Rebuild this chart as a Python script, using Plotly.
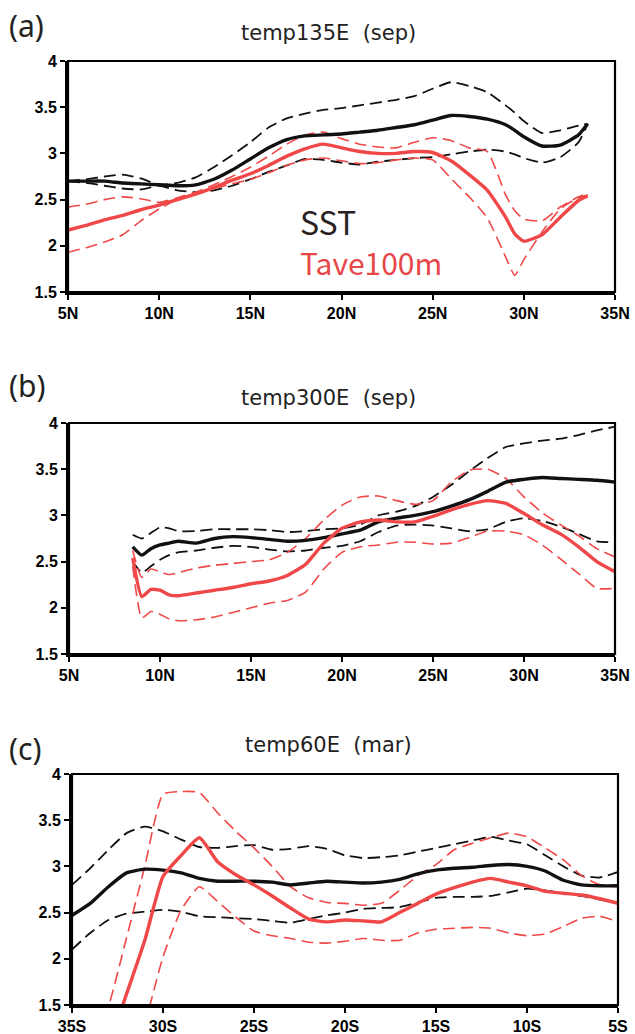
import plotly.graph_objects as go

# ---------------- data ----------------
# Panel (a) temp135E (sep)
a_lat = [5, 6, 7, 8, 9, 10, 11, 12, 13, 14, 15, 16, 17, 18, 19, 20, 21, 22, 23, 24,
         25, 26, 27, 28, 29, 29.5, 30, 31, 32, 33, 33.5]
a_sst = [2.70, 2.70, 2.70, 2.68, 2.67, 2.66, 2.65, 2.66, 2.72, 2.82, 2.94, 3.06, 3.15, 3.19, 3.20, 3.21,
         3.23, 3.25, 3.28, 3.31, 3.36, 3.41, 3.40, 3.37, 3.31, 3.25, 3.18, 3.08, 3.09, 3.20, 3.32]
a_sst_hi = [2.70, 2.72, 2.75, 2.77, 2.73, 2.66, 2.68, 2.74, 2.85, 2.98, 3.12, 3.28, 3.38, 3.43, 3.47, 3.49,
            3.52, 3.55, 3.58, 3.62, 3.70, 3.77, 3.73, 3.66, 3.52, 3.44, 3.35, 3.22, 3.25, 3.30, 3.32]
a_sst_lo = [2.70, 2.68, 2.65, 2.62, 2.61, 2.65, 2.60, 2.58, 2.60, 2.65, 2.72, 2.80, 2.87, 2.94, 2.93, 2.90,
            2.88, 2.91, 2.93, 2.95, 2.96, 2.99, 3.02, 3.04, 3.02, 2.99, 2.95, 2.90, 2.96, 3.12, 3.32]
a_tave = [2.17, 2.22, 2.28, 2.33, 2.39, 2.44, 2.50, 2.56, 2.63, 2.71, 2.78, 2.87, 2.97, 3.05, 3.10, 3.06,
          3.02, 3.00, 3.00, 3.02, 3.01, 2.92, 2.77, 2.60, 2.31, 2.13, 2.05, 2.12, 2.31, 2.49, 2.54]
a_tave_hi = [2.42, 2.45, 2.50, 2.53, 2.51, 2.47, 2.52, 2.58, 2.66, 2.75, 2.85, 2.97, 3.10, 3.20, 3.23, 3.16,
             3.10, 3.07, 3.06, 3.12, 3.17, 3.14, 3.06, 3.02, 2.55, 2.38, 2.29, 2.27, 2.42, 2.53, 2.57]
a_tave_lo = [1.93, 1.98, 2.04, 2.12, 2.27, 2.40, 2.50, 2.57, 2.62, 2.67, 2.72, 2.79, 2.87, 2.93, 2.95, 2.92,
             2.89, 2.90, 2.93, 2.95, 2.93, 2.73, 2.53, 2.30, 1.88, 1.68, 1.85, 2.15, 2.40, 2.52, 2.55]

# Panel (b) temp300E (sep)
b_lat = [8.5, 9, 9.5, 10, 10.5, 11, 12, 13, 14, 15, 16, 17, 18, 19, 20, 21, 22, 23, 24, 25,
         26, 27, 28, 29, 30, 31, 32, 33, 34, 35]
b_sst = [2.66, 2.57, 2.64, 2.68, 2.70, 2.72, 2.70, 2.75, 2.77, 2.76, 2.74, 2.72, 2.73, 2.76, 2.80,
         2.84, 2.93, 2.97, 3.00, 3.04, 3.10, 3.17, 3.26, 3.36, 3.39, 3.41, 3.40, 3.39, 3.38, 3.36]
b_sst_hi = [2.79, 2.75, 2.81, 2.87, 2.86, 2.83, 2.83, 2.85, 2.85, 2.85, 2.84, 2.82, 2.83, 2.85, 2.86,
            2.90, 3.00, 3.04, 3.10, 3.20, 3.33, 3.48, 3.62, 3.74, 3.78, 3.81, 3.83, 3.87, 3.92, 3.96]
b_sst_lo = [2.50, 2.38, 2.45, 2.52, 2.57, 2.60, 2.62, 2.65, 2.67, 2.66, 2.63, 2.61, 2.62, 2.65, 2.67,
            2.72, 2.82, 2.89, 2.90, 2.89, 2.86, 2.83, 2.85, 2.93, 2.97, 2.94, 2.88, 2.80, 2.72, 2.71]
b_tave = [2.54, 2.12, 2.20, 2.19, 2.14, 2.13, 2.16, 2.19, 2.22, 2.26, 2.29, 2.35, 2.47, 2.70, 2.86,
          2.93, 2.95, 2.93, 2.93, 2.99, 3.06, 3.12, 3.16, 3.13, 3.02, 2.90, 2.80, 2.66, 2.50, 2.39]
b_tave_hi = [2.62, 2.33, 2.42, 2.39, 2.36, 2.38, 2.43, 2.46, 2.48, 2.50, 2.52, 2.60, 2.75, 2.95, 3.11,
             3.20, 3.21, 3.16, 3.12, 3.16, 3.36, 3.49, 3.50, 3.40, 3.20, 3.03, 2.90, 2.78, 2.64, 2.55]
b_tave_lo = [2.45, 1.89, 1.96, 1.93, 1.88, 1.86, 1.87, 1.90, 1.95, 2.00, 2.05, 2.08, 2.17, 2.42, 2.60,
             2.66, 2.68, 2.71, 2.71, 2.69, 2.70, 2.76, 2.83, 2.83, 2.79, 2.68, 2.53, 2.37, 2.21, 2.21]

# Panel (c) temp60E (mar)  (negative = southern latitudes)
c_lat = [-35, -34, -33, -32, -31, -30, -29, -28, -27, -26, -25, -24, -23, -22, -21, -20,
         -19, -18, -17, -16, -15, -14, -13, -12, -11, -10, -9, -8, -7, -6, -5]
c_sst = [2.47, 2.60, 2.78, 2.93, 2.97, 2.96, 2.93, 2.87, 2.84, 2.84, 2.84, 2.83, 2.80, 2.82, 2.84, 2.83,
         2.82, 2.83, 2.86, 2.92, 2.96, 2.98, 2.99, 3.01, 3.02, 3.00, 2.95, 2.85, 2.80, 2.79, 2.79]
c_sst_hi = [2.80, 2.98, 3.18, 3.36, 3.43, 3.38, 3.29, 3.21, 3.20, 3.22, 3.23, 3.18, 3.19, 3.22, 3.19, 3.12,
            3.09, 3.10, 3.12, 3.16, 3.20, 3.24, 3.28, 3.32, 3.28, 3.24, 3.12, 3.00, 2.90, 2.88, 2.94]
c_sst_lo = [2.10, 2.28, 2.42, 2.49, 2.51, 2.53, 2.51, 2.46, 2.45, 2.44, 2.43, 2.41, 2.39, 2.43, 2.47, 2.50,
            2.54, 2.55, 2.56, 2.61, 2.66, 2.67, 2.67, 2.68, 2.72, 2.76, 2.74, 2.71, 2.68, 2.64, 2.61]
c_tave = [None, None, 1.05, 1.62, 2.20, 2.89, 3.12, 3.31, 3.05, 2.91, 2.80, 2.68, 2.55, 2.43, 2.40, 2.42,
          2.41, 2.40, 2.50, 2.60, 2.70, 2.77, 2.83, 2.87, 2.83, 2.79, 2.73, 2.71, 2.69, 2.65, 2.60]
c_tave_hi = [None, 1.00, 1.48, 2.23, 3.00, 3.78, 3.81, 3.80, 3.58, 3.38, 3.20, 3.00, 2.78, 2.66, 2.61, 2.60,
             2.58, 2.60, 2.74, 2.90, 3.02, 3.18, 3.25, 3.31, 3.36, 3.32, 3.20, 3.07, 2.90, 2.80, 2.78]
c_tave_lo = [None, None, None, None, 1.28, 2.02, 2.53, 2.78, 2.62, 2.45, 2.30, 2.25, 2.22, 2.18, 2.17, 2.19,
             2.22, 2.20, 2.20, 2.28, 2.32, 2.33, 2.34, 2.33, 2.28, 2.25, 2.27, 2.35, 2.44, 2.46, 2.40]

ytick_vals = [1.5, 2, 2.5, 3, 3.5, 4]
ytick_text = ["1.5", "2", "2.5", "3", "3.5", "4"]
n_tick_vals = [5, 10, 15, 20, 25, 30, 35]
n_tick_text = ["5N", "10N", "15N", "20N", "25N", "30N", "35N"]
s_tick_vals = [-35, -30, -25, -20, -15, -10, -5]
s_tick_text = ["35S", "30S", "25S", "20S", "15S", "10S", "5S"]

panel_labels = ["(a)", "(b)", "(c)"]
panel_titles = ["temp135E  (sep)", "temp300E  (sep)", "temp60E  (mar)"]
legend_labels = ["SST", "Tave100m"]

# ---------------- figure ----------------
W, H = 635, 1034
BLACK = "#111111"
RED = "#F04848"

# plot-area boxes in pixels: (left, top, right, bottom)
boxes = [(68, 61, 615, 292), (69, 423, 615, 654), (72, 774, 618, 1005)]

fig = go.Figure()

panels = [
    (a_lat, [a_sst, a_sst_hi, a_sst_lo], [a_tave, a_tave_hi, a_tave_lo], n_tick_vals, n_tick_text, [5, 35]),
    (b_lat, [b_sst, b_sst_hi, b_sst_lo], [b_tave, b_tave_hi, b_tave_lo], n_tick_vals, n_tick_text, [5, 35]),
    (c_lat, [c_sst, c_sst_hi, c_sst_lo], [c_tave, c_tave_hi, c_tave_lo], s_tick_vals, s_tick_text, [-35, -5]),
]

dash = "12px,6px"
for i, (lat, sst, tave, tv, tt, xr) in enumerate(panels):
    sfx = "" if i == 0 else str(i + 1)
    xa, ya = "x" + sfx, "y" + sfx
    for ys in sst[1:]:
        fig.add_trace(go.Scatter(x=lat, y=ys, mode="lines", xaxis=xa, yaxis=ya,
                                 line=dict(color=BLACK, width=1.8, dash=dash, shape="spline", smoothing=0.5),
                                 showlegend=False, hoverinfo="skip"))
    for ys in tave[1:]:
        fig.add_trace(go.Scatter(x=lat, y=ys, mode="lines", xaxis=xa, yaxis=ya,
                                 line=dict(color=RED, width=1.6, dash=dash, shape="spline", smoothing=0.5),
                                 showlegend=False, hoverinfo="skip"))
    fig.add_trace(go.Scatter(x=lat, y=sst[0], mode="lines", xaxis=xa, yaxis=ya,
                             line=dict(color=BLACK, width=3.4, shape="spline", smoothing=0.5),
                             showlegend=False, hoverinfo="skip"))
    fig.add_trace(go.Scatter(x=lat, y=tave[0], mode="lines", xaxis=xa, yaxis=ya,
                             line=dict(color=RED, width=3.4, shape="spline", smoothing=0.5),
                             showlegend=False, hoverinfo="skip"))

    l, t, r, b = boxes[i]
    xdom = [l / W, r / W]
    ydom = [1 - b / H, 1 - t / H]
    tickfont = dict(family="Liberation Sans", size=16, color="black", weight="bold")
    fig.layout["xaxis" + sfx] = dict(
        domain=xdom, range=xr, anchor=ya, tickmode="array", tickvals=tv, ticktext=tt,
        showline=True, linewidth=3, linecolor="black", ticks="outside", ticklen=5, tickwidth=2,
        tickcolor="black", showgrid=False, zeroline=False, tickfont=tickfont, fixedrange=True,
        automargin=False)
    fig.layout["yaxis" + sfx] = dict(
        domain=ydom, range=[1.5, 4], anchor=xa, tickmode="array", tickvals=ytick_vals, ticktext=ytick_text,
        showline=True, linewidth=3, linecolor="black", ticks="outside", ticklen=5, tickwidth=2,
        tickcolor="black", showgrid=False, zeroline=False, tickfont=tickfont, fixedrange=True,
        automargin=False)
    fig.add_shape(type="rect", xref=xa + " domain", yref=ya + " domain", x0=0, x1=1, y0=0, y1=1,
                  line=dict(color="black", width=2.2), layer="above")

# panel labels and titles
label_y = [25, 385, 748]
title_y = [33, 398, 745]
for i in range(3):
    fig.add_annotation(text=panel_labels[i], xref="paper", yref="paper", x=7 / W, y=1 - label_y[i] / H,
                       xanchor="left", yanchor="middle", showarrow=False,
                       font=dict(family="Noto Sans", size=30, color="#222222"))
    fig.add_annotation(text=panel_titles[i], xref="paper", yref="paper", x=328 / W, y=1 - title_y[i] / H,
                       xanchor="center", yanchor="middle", showarrow=False,
                       font=dict(family="DejaVu Sans", size=21, color="#222222"))

# in-plot legend text (panel a)
fig.add_annotation(text=legend_labels[0], xref="paper", yref="paper", x=298 / W, y=1 - 221 / H,
                   xanchor="left", yanchor="middle", showarrow=False,
                   font=dict(family="Noto Sans CJK JP", size=32, color="#2a2220"))
fig.add_annotation(text=legend_labels[1], xref="paper", yref="paper", x=298 / W, y=1 - 262 / H,
                   xanchor="left", yanchor="middle", showarrow=False,
                   font=dict(family="Noto Sans CJK JP", size=30, color="#E8474A"))

fig.update_layout(width=W, height=H, margin=dict(l=0, r=0, t=0, b=0, autoexpand=False),
                  paper_bgcolor="white", plot_bgcolor="white", showlegend=False)

fig.write_html("out.html", config={"displayModeBar": False},
               post_script="document.body.style.margin='0';document.body.style.overflow='hidden';")
